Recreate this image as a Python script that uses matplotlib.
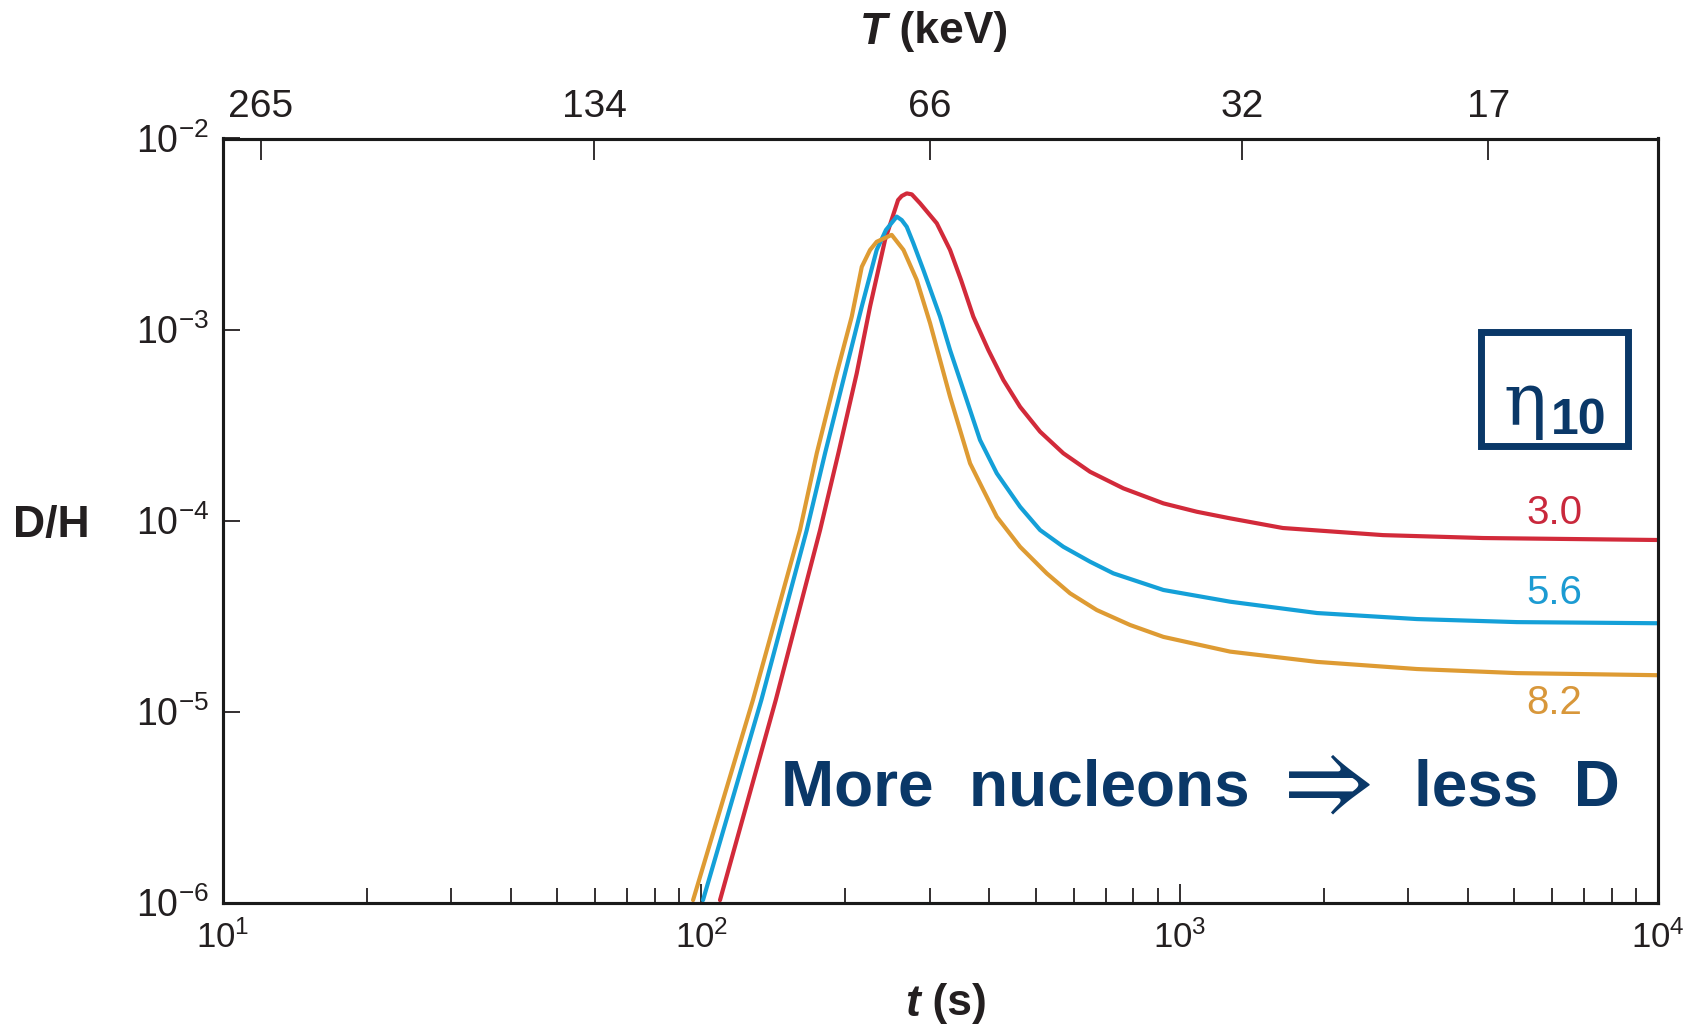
import matplotlib
matplotlib.use("Agg")
import numpy as np
import matplotlib.pyplot as plt
from matplotlib.patches import Rectangle
from matplotlib.ticker import LogLocator, NullLocator, FixedLocator, FixedFormatter, NullFormatter

plt.rcParams['font.family'] = ['Liberation Sans', 'DejaVu Sans']
plt.rcParams['mathtext.fontset'] = 'custom'
plt.rcParams['mathtext.rm'] = 'Liberation Sans'
plt.rcParams['mathtext.default'] = 'regular'

# Deuterium abundance D/H versus time t (s) for three baryon-to-photon ratios eta_10
eta_labels = ["3.0", "5.6", "8.2"]

t_eta30 = [109.4, 143.1, 177.1, 193.4, 211.3, 225.3, 242.1, 257.8, 262.4, 268.8, 275.4,
           286.6, 310.6, 331.1, 349.1, 370.4, 398.1, 428.0, 463.8, 510.7, 571.2,
           649.6, 762.7, 924.8, 1086, 1275, 1643, 2661, 4306, 10000]
dh_eta30 = [1.03e-6, 1.15e-5, 8.91e-5, 2.25e-4, 5.90e-4, 1.32e-3, 2.94e-3, 4.76e-3, 5.00e-3, 5.16e-3, 5.10e-3,
            4.58e-3, 3.60e-3, 2.61e-3, 1.816e-3, 1.167e-3, 7.81e-4, 5.44e-4, 3.94e-4, 2.92e-4, 2.25e-4,
            1.80e-4, 1.474e-4, 1.23e-4, 1.112e-4, 1.027e-4, 9.14e-5, 8.39e-5, 8.10e-5, 7.91e-5]

t_eta56 = [100.8, 133.5, 166.1, 181.4, 199.7, 216.5, 232.6, 243.2, 256.2, 262.4,
           268.8, 277.5, 291.2, 315.6, 331.1, 353.1, 382.5, 414.6, 463.8, 510.7, 571.2,
           649.6, 726.8, 924.8, 1275, 1937, 3133, 5070, 10000]
dh_eta56 = [1.03e-6, 1.15e-5, 8.91e-5, 2.25e-4, 5.90e-4, 1.32e-3, 2.61e-3, 3.32e-3, 3.90e-3, 3.74e-3,
            3.45e-3, 2.83e-3, 2.05e-3, 1.167e-3, 7.81e-4, 4.82e-4, 2.64e-4, 1.767e-4, 1.181e-4, 8.92e-5, 7.29e-5,
            6.09e-5, 5.29e-5, 4.33e-5, 3.76e-5, 3.28e-5, 3.05e-5, 2.94e-5, 2.90e-5]

t_eta82 = [96.1, 128.2, 160.8, 174.3, 191.9, 206.3, 216.5, 225.3, 232.6, 250.0,
           264.6, 282.0, 300.8, 315.6, 331.1, 347.4, 364.6, 388.7, 414.6, 463.8, 527.4,
           590.0, 671.0, 787.6, 924.8, 1275, 1937, 3133, 5070, 10000]
dh_eta82 = [1.03e-6, 1.15e-5, 8.91e-5, 2.25e-4, 5.90e-4, 1.17e-3, 2.13e-3, 2.61e-3, 2.88e-3, 3.13e-3,
            2.61e-3, 1.82e-3, 1.078e-3, 6.92e-4, 4.45e-4, 2.98e-4, 1.993e-4, 1.444e-4, 1.047e-4, 7.29e-5, 5.29e-5,
            4.16e-5, 3.40e-5, 2.84e-5, 2.46e-5, 2.06e-5, 1.82e-5, 1.67e-5, 1.59e-5, 1.55e-5]

# Temperature scale on the top axis: T (keV) at the matching times t (s)
top_tick_t = [12.0, 59.7, 300.4, 1353, 4415]
top_tick_labels = ["265", "134", "66", "32", "17"]

colors = ["#d22a3a", "#14a0d8", "#de9b33"]
label_colors = ["#c9283c", "#1c9bd2", "#d8973a"]
navy = "#0a3868"
ink = "#231f20"

fig = plt.figure(figsize=(16.97, 10.31), dpi=100)
fig.patch.set_facecolor("white")
W, H = 1697.0, 1031.0
ax = fig.add_axes([223 / W, 1 - 902.6 / H, 1435 / W, 764.1 / H])

for t, d, c in zip([t_eta30, t_eta56, t_eta82], [dh_eta30, dh_eta56, dh_eta82], colors):
    ax.plot(t, d, color=c, lw=3.0, solid_capstyle="round", solid_joinstyle="round")

ax.set_xscale("log")
ax.set_yscale("log")
ax.set_xlim(10, 1e4)
ax.set_ylim(1e-6, 1e-2)

ax.xaxis.set_major_locator(LogLocator(base=10, numticks=10))
ax.xaxis.set_minor_locator(LogLocator(base=10, subs=np.arange(2, 10), numticks=20))
ax.xaxis.set_minor_formatter(NullFormatter())
ax.yaxis.set_major_locator(LogLocator(base=10, numticks=10))
ax.yaxis.set_minor_locator(NullLocator())

ax.tick_params(axis="x", which="major", direction="in", length=14, width=1.3, color=ink,
               labelsize=25, labelcolor=ink, pad=13, top=False)
ax.tick_params(axis="x", which="minor", direction="in", length=11, width=1.3, color=ink, top=False)
ax.tick_params(axis="y", which="major", direction="in", length=12, width=1.3, color=ink,
               labelsize=27, labelcolor=ink, pad=10, right=False)

for s in ax.spines.values():
    s.set_linewidth(2.2)
    s.set_color("#1a1a1a")

# Top axis with temperature labels
ax2 = ax.twiny()
ax2.set_xscale("log")
ax2.set_xlim(ax.get_xlim())
ax2.xaxis.set_major_locator(FixedLocator(top_tick_t))
ax2.xaxis.set_major_formatter(FixedFormatter(top_tick_labels))
ax2.xaxis.set_minor_locator(NullLocator())
ax2.tick_params(axis="x", which="major", direction="in", length=15, width=1.3, color=ink,
                labelsize=28, labelcolor=ink, pad=10)
for s in ax2.spines.values():
    s.set_linewidth(2.2)
    s.set_color("#1a1a1a")

# Axis titles
fig.text(887 / W, 1 - 32 / H, "T", style="italic", weight="bold", fontsize=32,
         ha="right", va="center", color=ink)
fig.text(887 / W, 1 - 32 / H, " (keV)", weight="bold", fontsize=32,
         ha="left", va="center", color=ink)
fig.text(920 / W, 1 - 1004 / H, "t", style="italic", weight="bold", fontsize=32,
         ha="right", va="center", color=ink)
fig.text(920 / W, 1 - 1004 / H, " (s)", weight="bold", fontsize=32,
         ha="left", va="center", color=ink)
fig.text(51 / W, 1 - 526 / H, "D/H", weight="bold", fontsize=32,
         ha="center", va="center", color=ink)

# Curve labels
for yf, lab, c in zip([0.510, 0.405, 0.2606], eta_labels, label_colors):
    ax.text(0.928, yf, lab, transform=ax.transAxes, fontsize=29, color=c,
            ha="center", va="center")

# eta_10 legend box
ax.add_patch(Rectangle((0.877, 0.597), 0.102, 0.150, transform=ax.transAxes,
                       fill=False, lw=5.0, edgecolor=navy, zorder=5))
ax.text(0.907, 0.652, "\u03b7", transform=ax.transAxes, fontsize=52, color=navy,
        family=["DejaVu Serif"], ha="center", va="center", zorder=6)
ax.text(0.945, 0.630, "10", transform=ax.transAxes, fontsize=36, weight="bold",
        color=navy, ha="center", va="center", zorder=6)

# Annotation
fig.text(781 / W, 1 - 806 / H, "More  nucleons", weight="bold", fontsize=46,
         color=navy, ha="left", va="baseline")
fig.text(1318 / W, 1 - 784 / H, r"$\Rightarrow$", fontsize=72, color=navy,
         math_fontfamily="cm", ha="center", va="center")
fig.text(1620 / W, 1 - 806 / H, "less  D", weight="bold", fontsize=46,
         color=navy, ha="right", va="baseline")

fig.savefig("out.png", dpi=100, facecolor="white")
